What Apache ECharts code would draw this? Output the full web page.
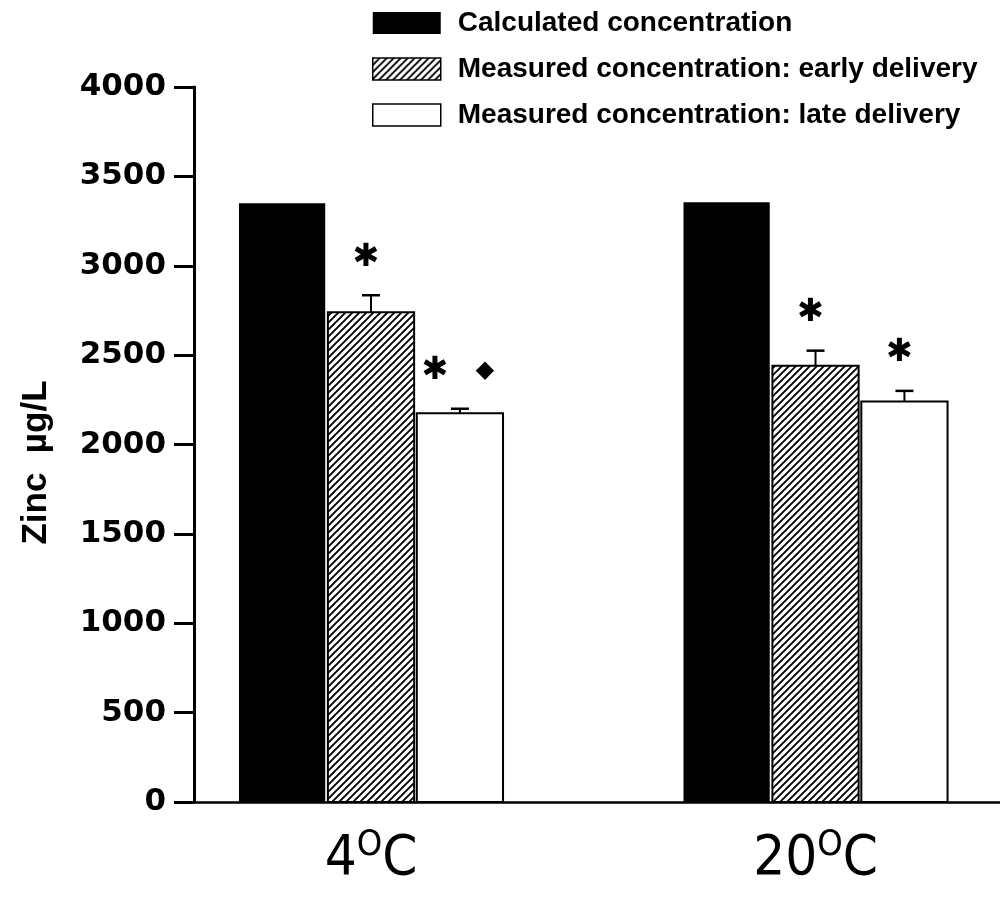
<!DOCTYPE html>
<html><head><meta charset="utf-8">
<script src="https://cdn.jsdelivr.net/npm/echarts@6/dist/echarts.min.js"></script>
<style>html,body{margin:0;padding:0;background:#fff}#c{width:1000px;height:903px}</style>
</head><body><div id="c"></div>
<script>
// ---- data ----
const categories = ['4', '20'];            // temperatures in °C
const seriesNames = ['Calculated concentration', 'Measured concentration: early delivery', 'Measured concentration: late delivery'];
const calculated = [3350, 3355];
const calculatedErr = [0, 0];
const earlyMeasured = [2740, 2440];
const earlyErr = [95, 85];
const lateMeasured = [2175, 2240];
const lateErr = [25, 60];
const calculatedMarks = [[], []];
const earlyMarks = [['✱'], ['✱']];
const lateMarks = [['✱', '◆'], ['✱']];
const yTickValues = [0, 500, 1000, 1500, 2000, 2500, 3000, 3500, 4000];

// ---- styling helpers ----
function hatchPattern() {
  const s = 7;
  const c = document.createElement('canvas');
  c.width = s; c.height = s;
  const ctx = c.getContext('2d');
  ctx.fillStyle = '#fff'; ctx.fillRect(0, 0, s, s);
  ctx.strokeStyle = '#000'; ctx.lineWidth = 1.9;
  ctx.beginPath();
  ctx.moveTo(-1, 1); ctx.lineTo(1, -1);
  ctx.moveTo(0, s); ctx.lineTo(s, 0);
  ctx.moveTo(s - 1, s + 1); ctx.lineTo(s + 1, s - 1);
  ctx.stroke();
  return { image: c, repeat: 'repeat' };
}
const hatch = hatchPattern();
const fills = ['#000', hatch, '#fff'];
const offsets = [-0.2, 0, 0.2];
const barW = 0.194;

function makeSeries(k, values, errs, marks) {
  return {
    name: seriesNames[k],
    type: 'custom',
    itemStyle: { color: fills[k], borderColor: '#000', borderWidth: 2 },
    data: values.map((v, i) => [i, v, errs[i]]),
    renderItem: function (params, api) {
      const gi = api.value(0), v = api.value(1), e = api.value(2);
      const xc = gi + 1 + offsets[k];
      const pL = api.coord([xc - barW / 2, 0]);
      const pR = api.coord([xc + barW / 2, v]);
      const pc = api.coord([xc, v]);
      const pe = api.coord([xc, v + e]);
      const children = [{
        type: 'rect',
        shape: { x: pL[0], y: pR[1], width: pR[0] - pL[0], height: pL[1] - pR[1] },
        style: { fill: fills[k], stroke: '#000', lineWidth: k === 0 ? 0 : 2 }
      }];
      if (e > 0) {
        children.push({ type: 'line', shape: { x1: pc[0], y1: pc[1], x2: pe[0], y2: pe[1] }, style: { stroke: '#000', lineWidth: 2 } });
        children.push({ type: 'line', shape: { x1: pe[0] - 9, y1: pe[1], x2: pe[0] + 9, y2: pe[1] }, style: { stroke: '#000', lineWidth: 2.5 } });
      }
      const m = marks[gi] || [];
      m.forEach((t, j) => {
        const dx = (j - (m.length - 1) / 2) * 50 - (m.length === 1 ? 5 : 0);
        children.push({
          type: 'text',
          style: {
            x: pe[0] + dx, y: pe[1] - 38, text: t,
            fill: '#000', align: 'center', verticalAlign: 'middle',
            font: (t === '◆' ? '24px' : 'bold 32px') + ' "DejaVu Sans"'
          }
        });
      });
      return { type: 'group', children: children };
    }
  };
}

const chart = echarts.init(document.getElementById('c'), null, { renderer: 'canvas' });
chart.setOption({
  animation: false,
  backgroundColor: '#fff',
  grid: { left: 194, right: 0, top: 87, bottom: 101, containLabel: false },
  legend: {
    orient: 'vertical', left: 372, top: 8, padding: 0,
    itemWidth: 68, itemHeight: 22, itemGap: 16,
    selectedMode: false,
    textStyle: { fontFamily: '"Liberation Sans", Arial, sans-serif', fontWeight: 'bold', fontSize: 28, lineHeight: 30, color: '#000', padding: [0, 0, 0, 12] },
    data: seriesNames.map((n, k) => ({
      name: n, icon: 'rect',
      itemStyle: { color: fills[k], borderColor: '#000', borderWidth: k === 0 ? 0 : 1.5 }
    }))
  },
  xAxis: {
    type: 'value', min: 0.6018, max: 2.415,
    axisLine: { show: true, onZero: false, lineStyle: { color: '#000', width: 2.5 } },
    axisTick: { show: false },
    splitLine: { show: false },
    axisLabel: {
      customValues: [1, 2],
      margin: 26,
      formatter: v => '{n|' + categories[Math.round(v) - 1] + '}{s|O}{n|C}',
      rich: {
        n: { fontFamily: '"Liberation Sans Narrow", "DejaVu Sans Condensed", sans-serif', fontSize: 56, lineHeight: 62, color: '#000' },
        s: { fontFamily: '"Liberation Sans Narrow", "DejaVu Sans Condensed", sans-serif', fontSize: 36, lineHeight: 12, verticalAlign: 'top', color: '#000' }
      }
    }
  },
  yAxis: {
    type: 'value', min: yTickValues[0], max: yTickValues[yTickValues.length - 1], interval: yTickValues[1] - yTickValues[0],
    name: 'Zinc  µg/L', nameLocation: 'middle', nameGap: 140,
    nameTextStyle: { fontFamily: '"Liberation Sans", Arial, sans-serif', fontWeight: 'bold', fontSize: 35, color: '#000', padding: [0, 36, 0, 0] },
    axisLine: { show: true, lineStyle: { color: '#000', width: 3 } },
    axisTick: { show: true, length: 20, lineStyle: { color: '#000', width: 3 } },
    splitLine: { show: false },
    axisLabel: { margin: 28, formatter: v => String(v), fontFamily: '"DejaVu Sans", sans-serif', fontWeight: 'bold', fontSize: 31, color: '#000' }
  },
  series: [
    makeSeries(0, calculated, calculatedErr, calculatedMarks),
    makeSeries(1, earlyMeasured, earlyErr, earlyMarks),
    makeSeries(2, lateMeasured, lateErr, lateMarks)
  ]
});
</script></body></html>
